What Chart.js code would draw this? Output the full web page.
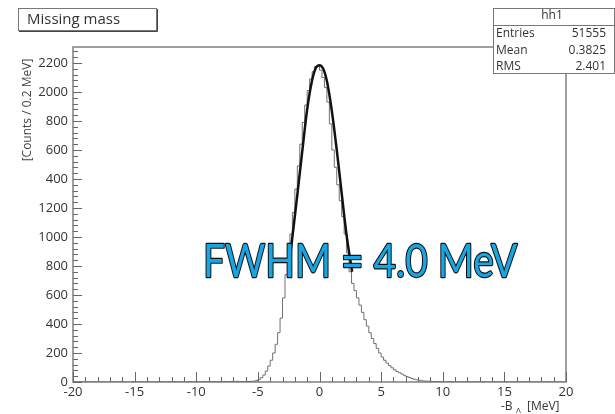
<!DOCTYPE html>
<html>
<head>
<meta charset="utf-8">
<title>Missing mass</title>
<script src="https://cdn.jsdelivr.net/npm/chart.js@4.4.0/dist/chart.umd.min.js"></script>
<style>
  html, body { margin: 0; padding: 0; background: #fff; }
</style>
</head>
<body>
<canvas id="hist" width="615" height="414"></canvas>
<script>
// histogram hh1: 200 bins of 0.2 MeV from -20 to 20
const binLow = -20;
const binWidth = 0.2;
const counts = [
  1, 0, 2, 1, 0, 1, 3, 0, 1, 2,
  0, 1, 1, 2, 0, 0, 1, 2, 1, 0,
  2, 1, 0, 1, 1, 3, 0, 2, 1, 1,
  0, 2, 1, 1, 0, 2, 3, 1, 0, 1,
  2, 1, 3, 0, 1, 2, 1, 2, 3, 1,
  2, 3, 1, 2, 4, 2, 3, 1, 3, 2,
  3, 2, 4, 3, 3, 4, 2, 5, 4, 3,
  3, 4, 3, 5, 6, 10, 18, 30, 48, 75,
  110, 150, 200, 260, 340, 440, 580, 740, 880, 1020,
  1170, 1330, 1490, 1640, 1790, 1910, 2010, 2090, 2140, 2175,
  2180, 2150, 2100, 2030, 1930, 1780, 1600, 1480, 1360, 1250,
  1140, 1020, 890, 760, 680, 630, 580, 530, 480, 430,
  385, 340, 300, 265, 232, 200, 172, 150, 130, 113,
  98, 85, 73, 64, 55, 46, 38, 31, 25, 19,
  15, 12, 9, 7, 6, 5, 4, 3, 4, 2,
  3, 2, 1, 2, 3, 1, 2, 0, 1, 2,
  1, 3, 0, 1, 2, 1, 0, 2, 1, 1,
  0, 2, 1, 0, 1, 1, 2, 0, 1, 0,
  1, 0, 1, 2, 0, 1, 0, 1, 1, 0,
  0, 1, 0, 2, 1, 0, 1, 0, 1, 0
];

// gaussian fit drawn over the peak
const fitX = [-2.5, -2.2, -1.8, -1.4, -1.0, -0.6, -0.3, 0, 0.3, 0.6, 1.0, 1.4, 1.8, 2.2, 2.65];
const fitY = [780, 1000, 1290, 1590, 1880, 2080, 2165, 2185, 2160, 2075, 1870, 1600, 1300, 1010, 760];

const xTicks = [-20, -15, -10, -5, 0, 5, 10, 15, 20];
const yTicks = [0, 200, 400, 600, 800, 1000, 1200, 1400, 1600, 1800, 2000, 2200];

const stats = [['Entries', '51555'], ['Mean', '0.3825'], ['RMS', '2.401']];

const histPoints = counts.map((c, i) => ({ x: binLow + i * binWidth, y: c }));
histPoints.push({ x: binLow + counts.length * binWidth, y: counts[counts.length - 1] });
const fitPoints = fitX.map((x, i) => ({ x: x, y: fitY[i] }));

const FONT = '"Open Sans", "Liberation Sans", sans-serif';

const rootStyle = {
  id: 'rootStyle',
  beforeDatasetsDraw(chart) {
    const ctx = chart.ctx;
    const a = chart.chartArea;
    const xs = chart.scales.x, ys = chart.scales.y;
    ctx.save();
    ctx.strokeStyle = '#808080';
    ctx.lineWidth = 1.5;
    ctx.strokeRect(a.left, a.top, a.right - a.left, a.bottom - a.top);
    ctx.lineWidth = 1;
    ctx.strokeStyle = '#666';
    ctx.beginPath();
    for (let v = -20; v <= 20; v++) {
      const px = Math.round(xs.getPixelForValue(v)) + 0.5;
      const len = v % 5 === 0 ? 10 : 5;
      ctx.moveTo(px, a.bottom);
      ctx.lineTo(px, a.bottom - len);
    }
    for (let v = 0; v <= 2300; v += 40) {
      const py = Math.round(ys.getPixelForValue(v)) + 0.5;
      const len = v % 200 === 0 ? 9 : 5;
      ctx.moveTo(a.left, py);
      ctx.lineTo(a.left + len, py);
    }
    ctx.stroke();
    ctx.restore();
  },
  afterDraw(chart) {
    const ctx = chart.ctx;
    ctx.save();

    // y axis title (hides the leading digit of a few labels, like the original)
    ctx.fillStyle = '#fff';
    ctx.fillRect(35, 110, 10, 76);
    ctx.translate(28, 110);
    ctx.rotate(-Math.PI / 2);
    ctx.fillStyle = '#444';
    ctx.font = '12px ' + FONT;
    ctx.textAlign = 'center';
    ctx.textBaseline = 'middle';
    ctx.fillText('[Counts / 0.2 MeV]', 0, 0);
    ctx.setTransform(1, 0, 0, 1, 0, 0);

    // x axis title
    ctx.fillStyle = '#333';
    ctx.font = '12px ' + FONT;
    ctx.textAlign = 'left';
    ctx.textBaseline = 'alphabetic';
    ctx.fillText('-B', 501, 410);
    ctx.font = '8px ' + FONT;
    ctx.fillText('\u039b', 516, 413);
    ctx.font = '12px ' + FONT;
    ctx.fillText('[MeV]', 527, 410);

    // title box
    ctx.fillStyle = '#fff';
    ctx.fillRect(18, 8, 139, 23);
    ctx.strokeStyle = '#777';
    ctx.lineWidth = 1;
    ctx.strokeRect(18.5, 8.5, 138, 22);
    ctx.strokeStyle = '#444';
    ctx.beginPath();
    ctx.moveTo(19, 31.5); ctx.lineTo(157.5, 31.5); ctx.lineTo(157.5, 9);
    ctx.stroke();
    ctx.fillStyle = '#333';
    ctx.font = '15px ' + FONT;
    ctx.textBaseline = 'middle';
    ctx.fillText('Missing mass', 27, 20);

    // stats box
    ctx.fillStyle = '#fff';
    ctx.fillRect(493, 8, 121, 66);
    ctx.strokeStyle = '#777';
    ctx.strokeRect(493.5, 8.5, 121, 65);
    ctx.beginPath();
    ctx.moveTo(493, 25.5); ctx.lineTo(615, 25.5);
    ctx.stroke();
    ctx.fillStyle = '#333';
    ctx.font = '12px ' + FONT;
    ctx.textAlign = 'center';
    ctx.fillText('hh1', 552, 16);
    stats.forEach((row, i) => {
      const y = 34 + i * 16.5;
      ctx.textAlign = 'left';
      ctx.fillText(row[0], 496, y);
      ctx.textAlign = 'right';
      ctx.fillText(row[1], 606, y);
    });

    // big annotation, stretched a bit vertically (narrow slide font in the original)
    const label = 'FWHM = 4.0 MeV';
    ctx.font = '50px Lato, ' + FONT;
    const w = ctx.measureText(label).width;
    const size = 50 * 314 / w;
    ctx.font = size.toFixed(1) + 'px Lato, ' + FONT;
    ctx.textAlign = 'left';
    ctx.textBaseline = 'alphabetic';
    ctx.translate(203, 277);
    ctx.scale(1, 1.17);
    ctx.lineWidth = 2;
    ctx.strokeStyle = '#111';
    ctx.lineJoin = 'round';
    ctx.strokeText(label, 0, 0);
    ctx.fillStyle = '#17a6e3';
    ctx.fillText(label, 0, 0);
    ctx.restore();
  }
};

const ctx = document.getElementById('hist').getContext('2d');
new Chart(ctx, {
  type: 'line',
  data: {
    datasets: [
      {
        label: 'fit',
        data: fitPoints,
        borderColor: '#111',
        borderWidth: 2.5,
        pointRadius: 0,
        tension: 0.4,
        cubicInterpolationMode: 'monotone'
      },
      {
        label: 'hh1',
        data: histPoints,
        borderColor: '#707070',
        borderWidth: 1,
        pointRadius: 0,
        stepped: 'after'
      }
    ]
  },
  options: {
    responsive: false,
    animation: false,
    layout: { padding: { left: 0, top: 47, right: 49, bottom: 0 } },
    plugins: {
      legend: { display: false },
      tooltip: { enabled: false }
    },
    scales: {
      x: {
        type: 'linear',
        min: -20,
        max: 20,
        grid: { display: false, drawTicks: false },
        border: { display: false },
        afterFit(s) { s.height = 32; },
        afterBuildTicks(s) { s.ticks = xTicks.map(v => ({ value: v })); },
        ticks: {
          color: '#333',
          font: { family: FONT, size: 13 },
          padding: 2,
          maxRotation: 0,
          autoSkip: false,
          callback: v => String(v)
        }
      },
      y: {
        type: 'linear',
        min: 0,
        max: 2310,
        grid: { display: false, drawTicks: false },
        border: { display: false },
        afterFit(s) { s.width = 73; },
        afterBuildTicks(s) { s.ticks = yTicks.map(v => ({ value: v })); },
        ticks: {
          color: '#333',
          font: { family: FONT, size: 13 },
          padding: 5,
          autoSkip: false,
          callback: v => String(v)
        }
      }
    }
  },
  plugins: [rootStyle]
});
</script>
</body>
</html>
